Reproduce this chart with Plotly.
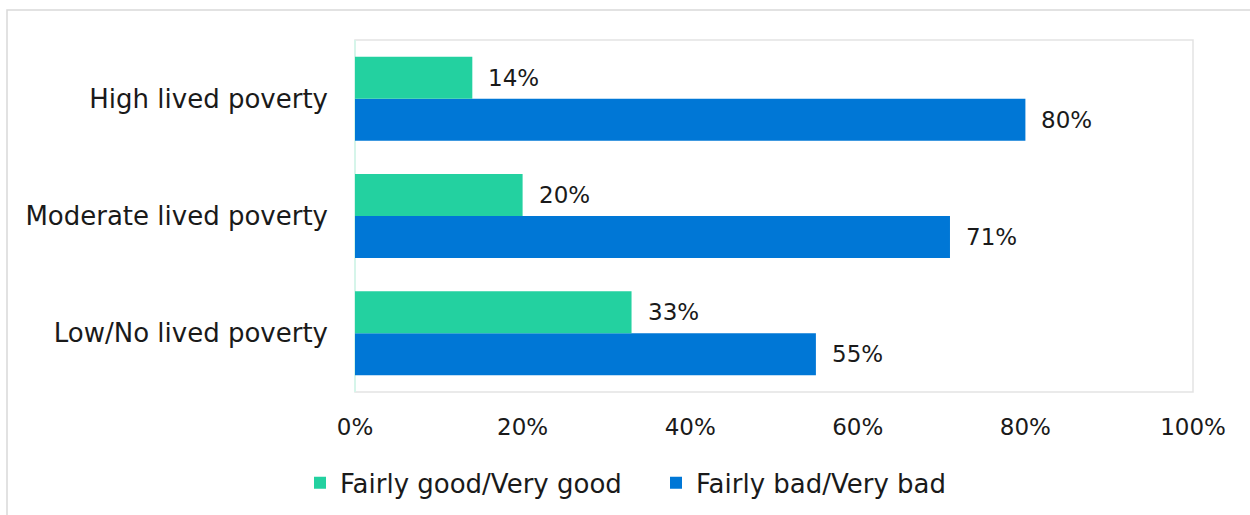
import plotly.graph_objects as go

categories = ["Low/No lived poverty", "Moderate lived poverty", "High lived poverty"]
good_values = [33, 20, 14]
bad_values = [55, 71, 80]
series_names = ["Fairly good/Very good", "Fairly bad/Very bad"]
tick_values = [0, 20, 40, 60, 80, 100]
tick_labels = ["0%", "20%", "40%", "60%", "80%", "100%"]

GREEN = "#23D1A0"
BLUE = "#0077D6"
TEXT = "#1a1a1a"
FONT = "'DejaVu Sans', sans-serif"
FS = 23
FS_CAT = 26

fig = go.Figure()
# horizontal groups stack upward, so the lower bar (blue) goes in first
fig.add_trace(go.Bar(
    y=categories, x=bad_values, name=series_names[1], orientation="h",
    marker=dict(color=BLUE, line=dict(width=0)), legendrank=2,
))
fig.add_trace(go.Bar(
    y=categories, x=good_values, name=series_names[0], orientation="h",
    marker=dict(color=GREEN, line=dict(width=0)), legendrank=1,
))

# value labels placed just right of each bar end
annotations = []
for i, cat in enumerate(categories):
    for val, off in ((good_values[i], 0.179), (bad_values[i], -0.179)):
        annotations.append(dict(
            x=val, y=i + off, xref="x", yref="y", text=f"{val}%",
            showarrow=False, xanchor="left", yanchor="middle", xshift=14,
            font=dict(family=FONT, size=FS, color=TEXT),
        ))

fig.update_layout(
    width=1250, height=515,
    margin=dict(l=355, r=57, t=40, b=123, autoexpand=False),
    paper_bgcolor="white", plot_bgcolor="white",
    barmode="group", bargap=0.284, bargroupgap=0,
    font=dict(family=FONT, size=FS, color=TEXT),
    showlegend=True,
    legend=dict(
        orientation="h", x=(300 - 355) / 838, xanchor="left",
        y=-0.258, yanchor="middle", entrywidth=311,
        font=dict(family=FONT, size=FS_CAT, color=TEXT),
    ),
    xaxis=dict(
        range=[0, 100], tickvals=tick_values, ticktext=tick_labels,
        showgrid=False, zeroline=False, showline=False, ticks="",
        tickfont=dict(family=FONT, size=FS, color=TEXT), ticklabelstandoff=19,
    ),
    yaxis=dict(
        showgrid=False, zeroline=False, showline=False, ticks="",
        categoryorder="array", categoryarray=categories,
        tickfont=dict(family=FONT, size=FS_CAT, color=TEXT), ticklabelstandoff=26,
    ),
    annotations=annotations,
    shapes=[
        # outer chart frame
        dict(type="rect", xref="paper", yref="paper",
             x0=-348 / 838, x1=1.1, y0=-0.4, y1=(515 - 10 - 123) / 352,
             line=dict(color="#d9d9d9", width=1.5), layer="below"),
        # plot area frame
        dict(type="rect", xref="paper", yref="paper", x0=0, x1=1, y0=0, y1=1,
             line=dict(color="#e3e3e3", width=1.5), layer="below"),
        # category axis line
        dict(type="line", xref="paper", yref="paper", x0=0, x1=0, y0=0, y1=1,
             line=dict(color="#d6f5ea", width=2), layer="below"),
    ],
)

fig.write_html("out.html")
